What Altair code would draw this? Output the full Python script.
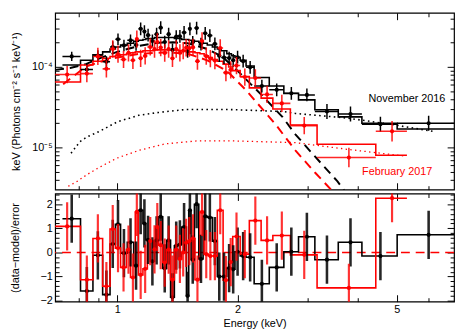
import altair as alt
import pandas as pd

# ---------------- November 2016 (black) ----------------
nov_edges = [0.73, 0.81, 0.87, 0.92, 0.96, 0.99, 1.02, 1.06, 1.10, 1.13, 1.16, 1.18, 1.21, 1.24,
             1.27, 1.30, 1.33, 1.36, 1.39, 1.42, 1.45, 1.49, 1.51, 1.53, 1.56, 1.60, 1.64, 1.68,
             1.73, 1.78, 1.82, 1.88, 1.93, 1.97, 2.03, 2.10, 2.20, 2.40, 2.61, 2.84, 3.12, 3.57,
             4.09, 5.01, 7.00]
nov_model = [1.06e-4, 1.21e-4, 1.42e-4, 1.54e-4, 1.67e-4, 1.77e-4, 1.87e-4, 1.97e-4, 2.08e-4, 2.14e-4,
             2.19e-4, 2.25e-4, 2.25e-4, 2.32e-4, 2.32e-4, 2.32e-4, 2.32e-4, 2.32e-4, 2.25e-4, 2.25e-4,
             2.19e-4, 2.19e-4, 2.14e-4, 2.14e-4, 2.08e-4, 2.02e-4, 1.97e-4, 1.87e-4, 1.77e-4, 1.67e-4,
             1.59e-4, 1.46e-4, 1.38e-4, 1.31e-4, 1.21e-4, 1.03e-4, 7.4e-5, 5.8e-5, 4.7e-5, 3.9e-5,
             2.95e-5, 2.4e-5, 2.0e-5, 1.7e-5]
nov_flux = [1.35e-4, 9.3e-5, 1.38e-4, 1.16e-4, 1.77e-4, 2.21e-4, 1.85e-4, 2.14e-4, 1.87e-4, 2.97e-4,
            2.75e-4, 2.48e-4, 2.10e-4, 2.55e-4, 3.07e-4, 2.04e-4, 2.55e-4, 1.63e-4, 2.38e-4, 2.40e-4,
            2.68e-4, 1.56e-4, 2.97e-4, 2.02e-4, 3.04e-4, 1.92e-4, 2.62e-4, 2.45e-4, 1.93e-4, 1.38e-4,
            1.31e-4, 1.29e-4, 1.21e-4, 1.32e-4, 1.18e-4, 9.9e-5, 5.8e-5, 5.2e-5, 4.7e-5, 4.5e-5,
            2.8e-5, 2.6e-5, 1.95e-5, 2.0e-5]
nov_relerr = [0.14, 0.17, 0.17, 0.17, 0.18, 0.18, 0.18, 0.18, 0.18, 0.20,
              0.20, 0.20, 0.20, 0.20, 0.20, 0.20, 0.20, 0.20, 0.20, 0.20,
              0.20, 0.20, 0.20, 0.20, 0.20, 0.20, 0.20, 0.20, 0.20, 0.20,
              0.20, 0.20, 0.20, 0.20, 0.20, 0.20, 0.20, 0.20, 0.20, 0.20,
              0.24, 0.24, 0.24, 0.24]
nov_resid = [1.4, -1.6, -0.12, -1.75, 0.35, 1.17, -0.03, 0.42, -0.55, 1.75,
             1.2, 0.52, -0.37, 0.5, 1.48, -0.66, 0.5, -1.86, 0.28, 0.33,
             1.05, -1.8, 1.75, -0.3, 2.0, -0.27, 1.5, 1.45, 0.47, -1.0,
             -1.0, -0.65, -0.7, 0.03, -0.15, -0.2, -1.3, -0.62, 0.03, 0.65,
             -0.3, 0.42, -0.15, 0.73]
# model components
nov_pl_E = [0.767, 0.807, 0.840, 0.904, 1.0, 1.132, 1.267, 1.475, 1.912, 2.592, 2.789, 3.760, 4.90, 6.14]
nov_pl_F = [8.5e-6, 1.18e-5, 1.35e-5, 1.59e-5, 2.08e-5, 2.51e-5, 2.72e-5, 2.96e-5, 2.96e-5, 2.80e-5,
            2.65e-5, 2.32e-5, 1.92e-5, 1.59e-5]
nov_bb_E = [0.70, 0.763, 0.835, 0.904, 1.0, 1.132, 1.267, 1.379, 1.50, 1.68, 1.828, 1.989, 2.316,
            2.592, 2.789, 3.069, 3.554, 3.739]
nov_bb_F = [9.2e-5, 9.7e-5, 1.085e-4, 1.28e-4, 1.54e-4, 1.82e-4, 2.0e-4, 2.02e-4, 1.97e-4, 1.67e-4,
            1.35e-4, 9.2e-5, 4.3e-5, 2.38e-5, 1.46e-5, 8.5e-6, 3.8e-6, 2.7e-6]

# ---------------- February 2017 (red) ----------------
feb_edges = [0.69, 0.81, 0.87, 0.92, 0.96, 0.99, 1.02, 1.055, 1.08, 1.11, 1.13, 1.16, 1.19, 1.23,
             1.25, 1.27, 1.30, 1.33, 1.36, 1.39, 1.42, 1.45, 1.475, 1.50, 1.53, 1.565, 1.61, 1.65,
             1.69, 1.73, 1.78, 1.84, 1.90, 1.945, 2.03, 2.14, 2.29, 2.45, 2.71, 3.16, 4.43, 5.30]
feb_model = [6.5e-5, 1.06e-4, 1.18e-4, 1.28e-4, 1.35e-4, 1.38e-4, 1.42e-4, 1.46e-4, 1.50e-4, 1.54e-4,
             1.54e-4, 1.59e-4, 1.59e-4, 1.63e-4, 1.63e-4, 1.63e-4, 1.63e-4, 1.63e-4, 1.63e-4, 1.63e-4,
             1.59e-4, 1.59e-4, 1.59e-4, 1.54e-4, 1.54e-4, 1.50e-4, 1.46e-4, 1.38e-4, 1.31e-4, 1.24e-4,
             1.18e-4, 1.085e-4, 1.0e-4, 9.0e-5, 7.6e-5, 5.5e-5, 4.1e-5, 3.0e-5, 1.9e-5, 1.1e-5,
             8.0e-6]
feb_flux = [8.05e-5, 8.27e-5, 1.35e-4, 9.47e-5, 1.67e-4, 1.44e-4, 1.24e-4, 1.50e-4, 1.21e-4, 2.22e-4,
            1.28e-4, 1.37e-4, 1.77e-4, 1.67e-4, 2.04e-4, 1.74e-4, 1.49e-4, 1.67e-4, 1.28e-4, 1.67e-4,
            1.50e-4, 1.59e-4, 1.73e-4, 1.71e-4, 1.75e-4, 1.18e-4, 2.10e-4, 1.36e-4, 1.27e-4, 1.20e-4,
            1.72e-4, 8.5e-5, 9.2e-5, 1.04e-4, 7.5e-5, 7.3e-5, 4.56e-5, 3.53e-5, 1.87e-5, 7.5e-6,
            1.59e-5]
feb_relerr = [0.28, 0.28, 0.28, 0.28, 0.28, 0.28, 0.28, 0.28, 0.28, 0.28,
              0.28, 0.28, 0.28, 0.28, 0.28, 0.28, 0.28, 0.28, 0.28, 0.28,
              0.28, 0.28, 0.28, 0.28, 0.28, 0.28, 0.28, 0.28, 0.28, 0.28,
              0.28, 0.28, 0.28, 0.28, 0.28, 0.28, 0.28, 0.28, 0.28, 0.32,
              0.34]
feb_resid = [1.08, -1.13, 0.58, -1.4, 0.97, 0.18, -0.62, 0.12, -1.04, 1.68,
             -0.93, -0.68, 0.47, 0.13, 1.05, 0.3, -0.42, 0.12, -1.13, 0.12,
             -0.27, 0.0, 0.4, 0.47, 0.58, -1.13, 1.68, -0.07, -0.15, -0.15,
             1.75, -1.15, -0.4, 0.66, -0.07, 1.32, 0.5, 0.7, -0.1, -1.47,
             2.25]
feb_pl_E = [0.755, 0.794, 0.840, 0.904, 1.0, 1.132, 1.318, 1.588, 1.912, 2.789, 3.760, 5.27]
feb_pl_F = [3.3e-6, 3.8e-6, 4.6e-6, 5.7e-6, 7.4e-6, 9.2e-6, 1.11e-5, 1.21e-5, 1.21e-5, 1.15e-5,
            9.5e-6, 7.8e-6]
feb_bb_E = [0.733, 0.835, 0.904, 1.0, 1.132, 1.318, 1.50, 1.68, 1.88, 2.104, 2.492, 2.789, 3.122, 3.494]
feb_bb_F = [6.1e-5, 1.01e-4, 1.15e-4, 1.31e-4, 1.45e-4, 1.52e-4, 1.46e-4, 1.21e-4, 8.97e-5, 5.1e-5,
            1.92e-5, 9.2e-6, 4.9e-6, 2.7e-6]

# annotations
ann_text = ["November 2016", "February 2017"]
ann_E = [5.30, 5.01]
ann_F = [3.98e-5, 4.94e-6]
ann_color = ["black", "red"]

# tick values
X_MAJOR = [1, 2, 5]
X_MINOR = [0.8, 0.9, 3, 4, 6]
Y_TOP_MAJOR = [1e-5, 1e-4]
Y_TOP_MINOR = [4e-6, 5e-6, 6e-6, 7e-6, 8e-6, 9e-6, 2e-5, 3e-5, 4e-5, 5e-5, 6e-5, 7e-5, 8e-5, 9e-5,
               2e-4, 3e-4, 4e-4]
Y_RES_MAJOR = [-2, -1, 0, 1, 2]
Y_RES_MINOR = [-1.8, -1.6, -1.4, -1.2, -0.8, -0.6, -0.4, -0.2, 0.2, 0.4, 0.6, 0.8,
               1.2, 1.4, 1.6, 1.8, 2.2, 2.4]

FONT = "Liberation Sans"
XS = alt.Scale(type="log", domain=[0.70, 6.95], nice=False)
YS_TOP = alt.Scale(type="log", domain=[3.0e-6, 4.7e-4], nice=False)
YS_RES = alt.Scale(type="linear", domain=[-2.04, 2.44], nice=False, zero=False)
W, H_TOP, H_RES = 406, 180, 110


def step_table(edges, vals):
    E, V, O = [], [], []
    for i, v in enumerate(vals):
        E += [edges[i], edges[i + 1]]
        V += [v, v]
        O += [2 * i, 2 * i + 1]
    return pd.DataFrame({"E": E, "v": V, "o": O})


def bins_table(edges, flux, relerr, resid):
    lo, hi = edges[:-1], edges[1:]
    return pd.DataFrame({
        "Elo": lo, "Ehi": hi,
        "Ec": [(a + b) / 2 for a, b in zip(lo, hi)],
        "F": flux,
        "Flo": [f / (1 + e) for f, e in zip(flux, relerr)],
        "Fhi": [f * (1 + e) for f, e in zip(flux, relerr)],
        "r": resid,
        "rlo": [r - 1 for r in resid],
        "rhi": [r + 1 for r in resid],
    })


def ax(values, size, orient, labels=False, title=None, **kw):
    return alt.Axis(values=values, tickSize=size, offset=-size, orient=orient, domain=False,
                    grid=False, labels=labels, title=title, ticks=True, tickColor="black",
                    tickWidth=1, **kw)


def X(field, axis=None):
    return alt.X(field, type="quantitative", scale=XS, axis=axis)


def Yt(field, axis=None):
    return alt.Y(field, type="quantitative", scale=YS_TOP, axis=axis)


def Yr(field, axis=None):
    return alt.Y(field, type="quantitative", scale=YS_RES, axis=axis)


nov = bins_table(nov_edges, nov_flux, nov_relerr, nov_resid)
feb = bins_table(feb_edges, feb_flux, feb_relerr, feb_resid)
nov_step = step_table(nov_edges, nov_model)
feb_step = step_table(feb_edges, feb_model)
nov_rstep = step_table(nov_edges, nov_resid)
feb_rstep = step_table(feb_edges, feb_resid)
nov_pl = pd.DataFrame({"E": nov_pl_E, "F": nov_pl_F})
nov_bb = pd.DataFrame({"E": nov_bb_E, "F": nov_bb_F})
feb_pl = pd.DataFrame({"E": feb_pl_E, "F": feb_pl_F})
feb_bb = pd.DataFrame({"E": feb_bb_E, "F": feb_bb_F})
ann = pd.DataFrame({"label": ann_text, "E": ann_E, "F": ann_F, "c": ann_color})
zero = pd.DataFrame({"r": [0.0]})

BLACK, RED = "#000000", "#ff0000"
YTITLE = "keV (Photons cm⁻² s⁻¹ keV⁻¹)"

# ---------------- top panel ----------------
top_layers = [
    alt.Chart(nov_step).mark_line(color=BLACK, strokeWidth=1.6, clip=True).encode(
        x=X("E", ax(X_MAJOR, 7, "bottom")),
        y=Yt("v", ax(Y_TOP_MAJOR, 7, "left", labels=True, title=YTITLE,
                     labelExpr="datum.value > 5e-5 ? '10⁻⁴' : '10⁻⁵'", titlePadding=10,
                     labelPadding=3)),
        order="o:Q"),
    alt.Chart(nov_bb).mark_line(color=BLACK, strokeWidth=2, strokeDash=[9, 6], clip=True).encode(
        x=X("E"), y=Yt("F")),
    alt.Chart(nov_pl).mark_line(color=BLACK, strokeWidth=1.6, strokeDash=[1.6, 3.4], clip=True).encode(
        x=X("E", ax(X_MAJOR, 7, "top")), y=Yt("F", ax(Y_TOP_MAJOR, 7, "right"))),
    alt.Chart(feb_step).mark_line(color=RED, strokeWidth=1.6, clip=True).encode(
        x=X("E", ax(X_MINOR, 4, "bottom")), y=Yt("v", ax(Y_TOP_MINOR, 4, "left")), order="o:Q"),
    alt.Chart(feb_bb).mark_line(color=RED, strokeWidth=2, strokeDash=[9, 6], clip=True).encode(
        x=X("E"), y=Yt("F")),
    alt.Chart(feb_pl).mark_line(color=RED, strokeWidth=1.3, strokeDash=[1.4, 3.4], clip=True).encode(
        x=X("E", ax(X_MINOR, 4, "top")), y=Yt("F", ax(Y_TOP_MINOR, 4, "right"))),
    alt.Chart(nov).mark_rule(color=BLACK, strokeWidth=1.5, clip=True).encode(
        x=X("Elo"), x2="Ehi", y=Yt("F")),
    alt.Chart(nov).mark_rule(color=BLACK, strokeWidth=1.5, clip=True).encode(
        x=X("Ec"), y=Yt("Flo"), y2="Fhi"),
    alt.Chart(nov).mark_circle(color=BLACK, size=18, opacity=1, clip=True).encode(
        x=X("Ec"), y=Yt("F")),
    alt.Chart(feb).mark_rule(color=RED, strokeWidth=1.6, opacity=0.85, clip=True).encode(
        x=X("Elo"), x2="Ehi", y=Yt("F")),
    alt.Chart(feb).mark_rule(color=RED, strokeWidth=1.6, opacity=0.85, clip=True).encode(
        x=X("Ec"), y=Yt("Flo"), y2="Fhi"),
    alt.Chart(feb).mark_circle(color=RED, size=18, opacity=1, clip=True).encode(
        x=X("Ec"), y=Yt("F")),
    alt.Chart(ann).mark_text(font=FONT, fontSize=11, align="center", baseline="middle").encode(
        x=X("E"), y=Yt("F"), text="label:N", color=alt.Color("c:N", scale=None)),
]
top = alt.layer(*top_layers).resolve_axis(x="independent", y="independent").properties(
    width=W, height=H_TOP)

# ---------------- residual panel ----------------
res_layers = [
    alt.Chart(zero).mark_rule(color=RED, strokeWidth=1.5, strokeDash=[9, 6]).encode(y=Yr("r")),
    alt.Chart(nov_rstep).mark_line(color=BLACK, strokeWidth=1.6, clip=True).encode(
        x=X("E", ax(X_MAJOR, 7, "bottom", labels=True, title="Energy (keV)", format="d",
                    labelPadding=2, titlePadding=3)),
        y=Yr("v", ax(Y_RES_MAJOR, 7, "left", labels=True, title="(data−model)/error", format="d",
                     titlePadding=20, labelPadding=3)),
        order="o:Q"),
    alt.Chart(feb_rstep).mark_line(color=RED, strokeWidth=1.6, clip=True).encode(
        x=X("E", ax(X_MINOR, 4, "bottom")), y=Yr("v", ax(Y_RES_MINOR, 4, "left")), order="o:Q"),
    alt.Chart(nov).mark_rule(color=BLACK, strokeWidth=2.6, opacity=0.85, clip=True).encode(
        x=X("Ec", ax(X_MAJOR, 7, "top")), y=Yr("rlo", ax(Y_RES_MAJOR, 7, "right")), y2="rhi"),
    alt.Chart(nov).mark_circle(color=BLACK, size=18, opacity=1, clip=True).encode(
        x=X("Ec"), y=Yr("r")),
    alt.Chart(feb).mark_rule(color=RED, strokeWidth=2.2, opacity=0.8, clip=True).encode(
        x=X("Ec", ax(X_MINOR, 4, "top")), y=Yr("rlo", ax(Y_RES_MINOR, 4, "right")), y2="rhi"),
    alt.Chart(feb).mark_circle(color=RED, size=18, opacity=1, clip=True).encode(
        x=X("Ec"), y=Yr("r")),
]
res = alt.layer(*res_layers).resolve_axis(x="independent", y="independent").properties(
    width=W, height=H_RES)

chart = alt.vconcat(top, res, spacing=0).properties(
    padding={"left": 0, "top": 0, "right": 0, "bottom": 0}, background="white"
).configure_view(stroke="black", strokeWidth=1.2).configure_axis(
    labelFont=FONT, labelFontSize=11, labelColor="black",
    titleFont=FONT, titleFontSize=11, titleFontWeight="normal", titleColor="black",
)

chart.save("out.html", embed_options={"renderer": "svg", "actions": False})
